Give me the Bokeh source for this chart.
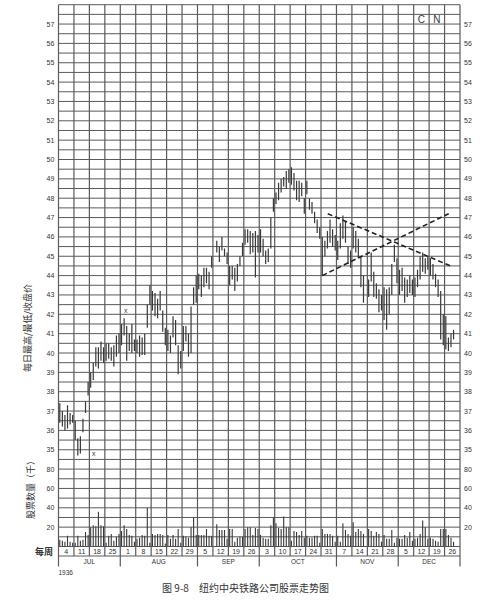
import math
from bokeh.plotting import figure
from bokeh.models import Range1d
from bokeh.core.properties import value
from bokeh.embed import file_html
from bokeh.resources import INLINE

# ---------------- data ----------------
week_labels = ["4", "11", "18", "25", "1", "8", "15", "22", "29", "5", "12", "19", "26",
               "3", "10", "17", "24", "31", "7", "14", "21", "28", "5", "12", "19", "26"]
month_labels = ["JUL", "AUG", "SEP", "OCT", "NOV", "DEC"]
month_weeks = [4, 5, 4, 5, 4, 4]
year_label = "1936"
price_ticks = list(range(35, 58))
volume_ticks = [20, 40, 60, 80]

N = None
daily_high = [
    37.4, 37.0, 36.8, 37.3, 36.9, 36.8,   # Jul 4
    36.5, 35.6, 35.7, 36.6, 37.5, 38.5,   # Jul 11
    39.0, 39.5, 40.3, 40.3, 40.6, 40.3,   # Jul 18
    40.5, 40.5, 40.3, 40.4, 40.9, 41.0,   # Jul 25
    41.5, 41.8, 41.4, 41.0, 41.5, 40.7,   # Aug 1
    40.7, 40.9, 40.8, 41.0, 42.5, 43.5,   # Aug 8
    43.2, 43.1, 42.8, 43.2, 42.2, 41.3,   # Aug 15
    41.2, 40.9, 41.9, 41.7, 40.4, 40.1,   # Aug 22
    41.4, 41.4, 41.0, 42.4, 43.4, 44.0,   # Aug 29
    44.1, 44.0, 44.4, 44.4, 44.2, 45.0,   # Sep 5
    N,    45.8, 45.5, 46.0, 45.4, 45.2,   # Sep 12
    44.5, 44.5, 44.4, 44.6, 45.0, 45.7,   # Sep 19
    46.4, 46.4, 46.3, 46.2, 46.3, 46.1,   # Sep 26
    46.4, 45.9, 45.3, 45.4, 47.0, 48.0,   # Oct 3
    48.3, 48.8, 49.0, 49.1, 49.4, 49.5,   # Oct 10
    49.6, 49.3, 48.9, 48.9, 48.8, 48.0,   # Oct 17
    48.9, 48.0, 47.8, 47.3, 46.9, 46.5,   # Oct 24
    46.0, 45.8, 46.3, 46.9, 46.4, 46.1,   # Oct 31
    45.8, 46.7, 47.1, 46.8, 45.5, 45.3,   # Nov 7
    46.5, 46.3, 45.9, 45.0, 44.0, N,      # Nov 14
    43.8, 45.2, 44.2, 43.6, 43.3, 43.0,   # Nov 21
    43.4, 43.3, 43.4, 44.6, 45.6, 44.9,   # Nov 28
    44.3, 44.4, 43.9, 43.8, 44.0, 43.8,   # Dec 5
    43.9, 44.3, 45.0, 45.2, 44.9, 45.0,   # Dec 12
    44.9, 44.6, 44.1, 43.8, 43.2, 42.0,   # Dec 19
    41.9, 40.8, 41.0, 41.2, N,    N,      # Dec 26
]
daily_low = [
    36.4, 36.2, 36.0, 36.1, 36.3, 36.4,
    35.5, 34.7, 34.8, 35.9, 36.9, 37.8,
    38.2, 38.6, 39.3, 39.2, 39.6, 39.5,
    39.6, 39.7, 39.6, 39.3, 39.8, 40.0,
    40.4, 40.9, 39.6, 40.1, 40.0, 40.1,
    40.0, 39.8, 39.9, 39.9, 41.3, 42.5,
    42.2, 41.9, 41.8, 42.2, 41.1, 40.4,
    40.1, 40.0, 40.8, 40.4, 38.9, 39.2,
    40.1, 40.6, 39.8, 40.0, 42.5, 42.6,
    43.3, 42.9, 43.4, 43.6, 43.3, 44.4,
    N,    45.2, 44.7, 45.3, 45.0, 44.6,
    43.5, 43.8, 43.2, 43.7, 44.5, 45.0,
    45.6, 45.7, 45.1, 45.2, 43.9, 45.2,
    45.2, 45.0, 44.6, 44.7, 45.4, 47.3,
    47.7, 47.9, 48.3, 48.6, 48.5, 48.8,
    48.7, 48.4, 47.9, 47.8, 48.1, 47.2,
    48.2, 47.4, 47.2, 46.7, 46.2, 45.9,
    44.0, 45.0, 45.4, 45.7, 45.5, 45.3,
    44.8, 45.4, 45.9, 45.7, 44.6, 44.4,
    45.4, 45.2, 44.9, 43.4, 42.6, N,
    42.9, 43.7, 42.9, 42.8, 42.1, 42.2,
    41.7, 41.2, 42.0, 43.0, 44.7, 43.6,
    43.0, 43.2, 42.6, 42.9, 43.1, 43.0,
    42.9, 43.4, 43.8, 44.2, 44.1, 44.3,
    44.0, 43.8, 43.4, 42.9, 40.7, 40.4,
    40.2, 40.1, 40.3, 40.7, N,    N,
]
daily_volume = [
    7, 6, 5, 11, 5, 4,
    4, 11, 6, 7, 15, 12,
    20, 22, 21, 36, 22, 21,
    4, 11, 13, 6, 10, 13,
    16, 22, 18, 12, 11, 5,
    8, 9, 12, 11, 40, 4,
    13, 12, 13, 13, 12, 3,
    12, 8, 12, 8, 18, 4,
    11, 10, 9, 20, 30, 12,
    12, 12, 12, 18, 11, 11,
    N, 23, 17, 17, 17, 8,
    18, 18, 5, 9, 10, 10,
    18, 20, 20, 12, 19, 18,
    12, 9, 8, 8, 22, 30,
    24, 19, 18, 31, 20, 20,
    6, 16, 15, 12, 16, 9,
    11, 9, 9, 11, 11, 4,
    18, 13, 13, 13, 11, 5,
    11, 5, 24, 17, 13, 11,
    25, 15, 18, 16, 13, N,
    18, 16, 11, 15, 13, 5,
    12, 8, 8, 17, 4, 9,
    8, 8, 12, 9, 15, 6,
    8, 9, 13, 27, 20, 8,
    9, 8, 6, 5, 18, 18,
    18, 12, 9, 5, N, N,
]
# dashed trend lines (day index, price)
trend_down_day = [104.6, 152.3]
trend_down_price = [47.2, 44.5]
trend_up_day = [102.5, 151.6]
trend_up_price = [44.0, 47.2]
# "x" marks
mark_day = [13.7, 26.1]
mark_price = [34.8, 42.2]

# ---------------- scales ----------------
DAYS_PER_WEEK = 6
n_weeks = len(week_labels)
n_days = n_weeks * DAYS_PER_WEEK
VOL_BASE = 30.0          # volume 0 sits on price-unit 30
VOL_PER_UNIT = 20.0      # 20 (thousand shares) per grid unit
PRICE_TOP = 58.0
PX_DAY = 401.5 / n_days
PX_UNIT = 19.35
W, H = 492, 599
FRAME_LEFT_PX, FRAME_BOTTOM_PX = 58, 546

x0 = -FRAME_LEFT_PX / PX_DAY
x1 = x0 + W / PX_DAY
y1 = VOL_BASE + FRAME_BOTTOM_PX / PX_UNIT
y0 = VOL_BASE - (H - FRAME_BOTTOM_PX) / PX_UNIT


def du(px):  # pixel length -> price units
    return px / PX_UNIT


def dd(px):  # pixel length -> day units
    return px / PX_DAY


p = figure(width=W, height=H, x_range=Range1d(x0, x1), y_range=Range1d(y0, y1),
           toolbar_location=None, output_backend="svg", min_border=0,
           x_axis_location=None, y_axis_location=None)
p.grid.visible = False
p.outline_line_color = None
p.background_fill_color = "white"
p.border_fill_color = "white"

GRID = "#5a5a5a"
INK = "#383838"
LAB = "#333333"
FONT = value("Liberation Sans")
CJK = value("Noto Sans CJK SC")

week_row_bottom = VOL_BASE - du(9.5)
month_row_bottom = VOL_BASE - du(20)

# horizontal grid
hy = [VOL_BASE + 0.5 * k for k in range(int((PRICE_TOP - VOL_BASE) / 0.5) + 1)] + [week_row_bottom]
p.segment(x0=[0] * len(hy), y0=hy, x1=[n_days] * len(hy), y1=hy, line_color=GRID, line_width=1)

# vertical weekly grid
vx = [w * DAYS_PER_WEEK for w in range(n_weeks + 1)]
p.segment(x0=vx, y0=[week_row_bottom] * len(vx), x1=vx, y1=[PRICE_TOP] * len(vx),
          line_color=GRID, line_width=1.2)
# month boundaries in month row
mb = [0]
for m in month_weeks:
    mb.append(mb[-1] + m * DAYS_PER_WEEK)
p.segment(x0=mb, y0=[month_row_bottom] * len(mb), x1=mb, y1=[week_row_bottom] * len(mb),
          line_color=GRID, line_width=1.2)

# price bars
bx, bh, bl = [], [], []
for i, (h, l) in enumerate(zip(daily_high, daily_low)):
    if h is not None and l is not None:
        bx.append(i + 0.5); bh.append(h); bl.append(l)
p.segment(x0=bx, y0=bl, x1=bx, y1=bh, line_color=INK, line_width=1.2)

# volume bars
vxs, vtop = [], []
for i, v in enumerate(daily_volume):
    if v is not None:
        vxs.append(i + 0.5); vtop.append(VOL_BASE + v / VOL_PER_UNIT)
p.segment(x0=vxs, y0=[VOL_BASE] * len(vxs), x1=vxs, y1=vtop, line_color=INK, line_width=1.1)

# trend lines
p.line(trend_down_day, trend_down_price, line_color="#222222", line_width=1.6, line_dash="5 3")
p.line(trend_up_day, trend_up_price, line_color="#222222", line_width=1.6, line_dash="5 3")

# x marks
p.text(x=mark_day, y=mark_price, text=["x"] * len(mark_day), text_align="center",
       text_baseline="middle", text_font=FONT, text_font_size=value("7px"), text_color=INK)

# y tick labels (both sides)
ylab_y = [float(t) for t in price_ticks] + [VOL_BASE + v / VOL_PER_UNIT for v in volume_ticks]
ylab_t = [str(t) for t in price_ticks] + [str(v) for v in volume_ticks]
p.text(x=[-dd(4.2)] * len(ylab_y), y=ylab_y, text=ylab_t, text_align="right",
       text_baseline="middle", text_font=FONT, text_font_size=value("7px"), text_color=LAB)
p.text(x=[n_days + dd(4)] * len(ylab_y), y=ylab_y, text=ylab_t, text_align="left",
       text_baseline="middle", text_font=FONT, text_font_size=value("7px"), text_color=LAB)

# week and month labels
wk_x = [w * DAYS_PER_WEEK + DAYS_PER_WEEK / 2 for w in range(n_weeks)]
p.text(x=wk_x, y=[VOL_BASE - du(4.8)] * n_weeks, text=week_labels, text_align="center",
       text_baseline="middle", text_font=FONT, text_font_size=value("7px"), text_color=LAB)
mo_x = [(mb[i] + mb[i + 1]) / 2 for i in range(len(month_labels))]
p.text(x=mo_x, y=[VOL_BASE - du(15.3)] * len(mo_x), text=month_labels, text_align="center",
       text_baseline="middle", text_font=FONT, text_font_size=value("6.5px"), text_color=LAB)
p.text(x=[0], y=[VOL_BASE - du(25.5)], text=[year_label], text_align="left",
       text_baseline="middle", text_font=FONT, text_font_size=value("6.5px"), text_color=LAB)

# side titles
p.text(x=[-dd(31)], y=[VOL_BASE + du(218.5)], text=["每日最高/最低/收盘价"], angle=math.pi / 2,
       text_align="center", text_baseline="middle", text_font=CJK,
       text_font_size=value("9px"), text_color=LAB)
p.text(x=[-dd(28)], y=[VOL_BASE + du(59)], text=["股票数量（千）"], angle=math.pi / 2,
       text_align="center", text_baseline="middle", text_font=CJK,
       text_font_size=value("9px"), text_color=LAB)
p.text(x=[-dd(14.5)], y=[VOL_BASE - du(5)], text=["每周"], text_align="center",
       text_baseline="middle", text_font=CJK, text_font_size=value("9px"),
       text_font_style="bold", text_color=LAB)

# ticker code
p.text(x=[141, 147], y=[57.25, 57.25], text=["C", "N"], text_align="center",
       text_baseline="middle", text_font=FONT, text_font_size=value("10px"), text_color=INK)

# caption
p.text(x=[dd(187)], y=[VOL_BASE - du(41)], text=["图 9-8　纽约中央铁路公司股票走势图"],
       text_align="center", text_baseline="middle", text_font=CJK,
       text_font_size=value("10px"), text_color="#333333")

open("out.html", "w").write(file_html(p, INLINE))
